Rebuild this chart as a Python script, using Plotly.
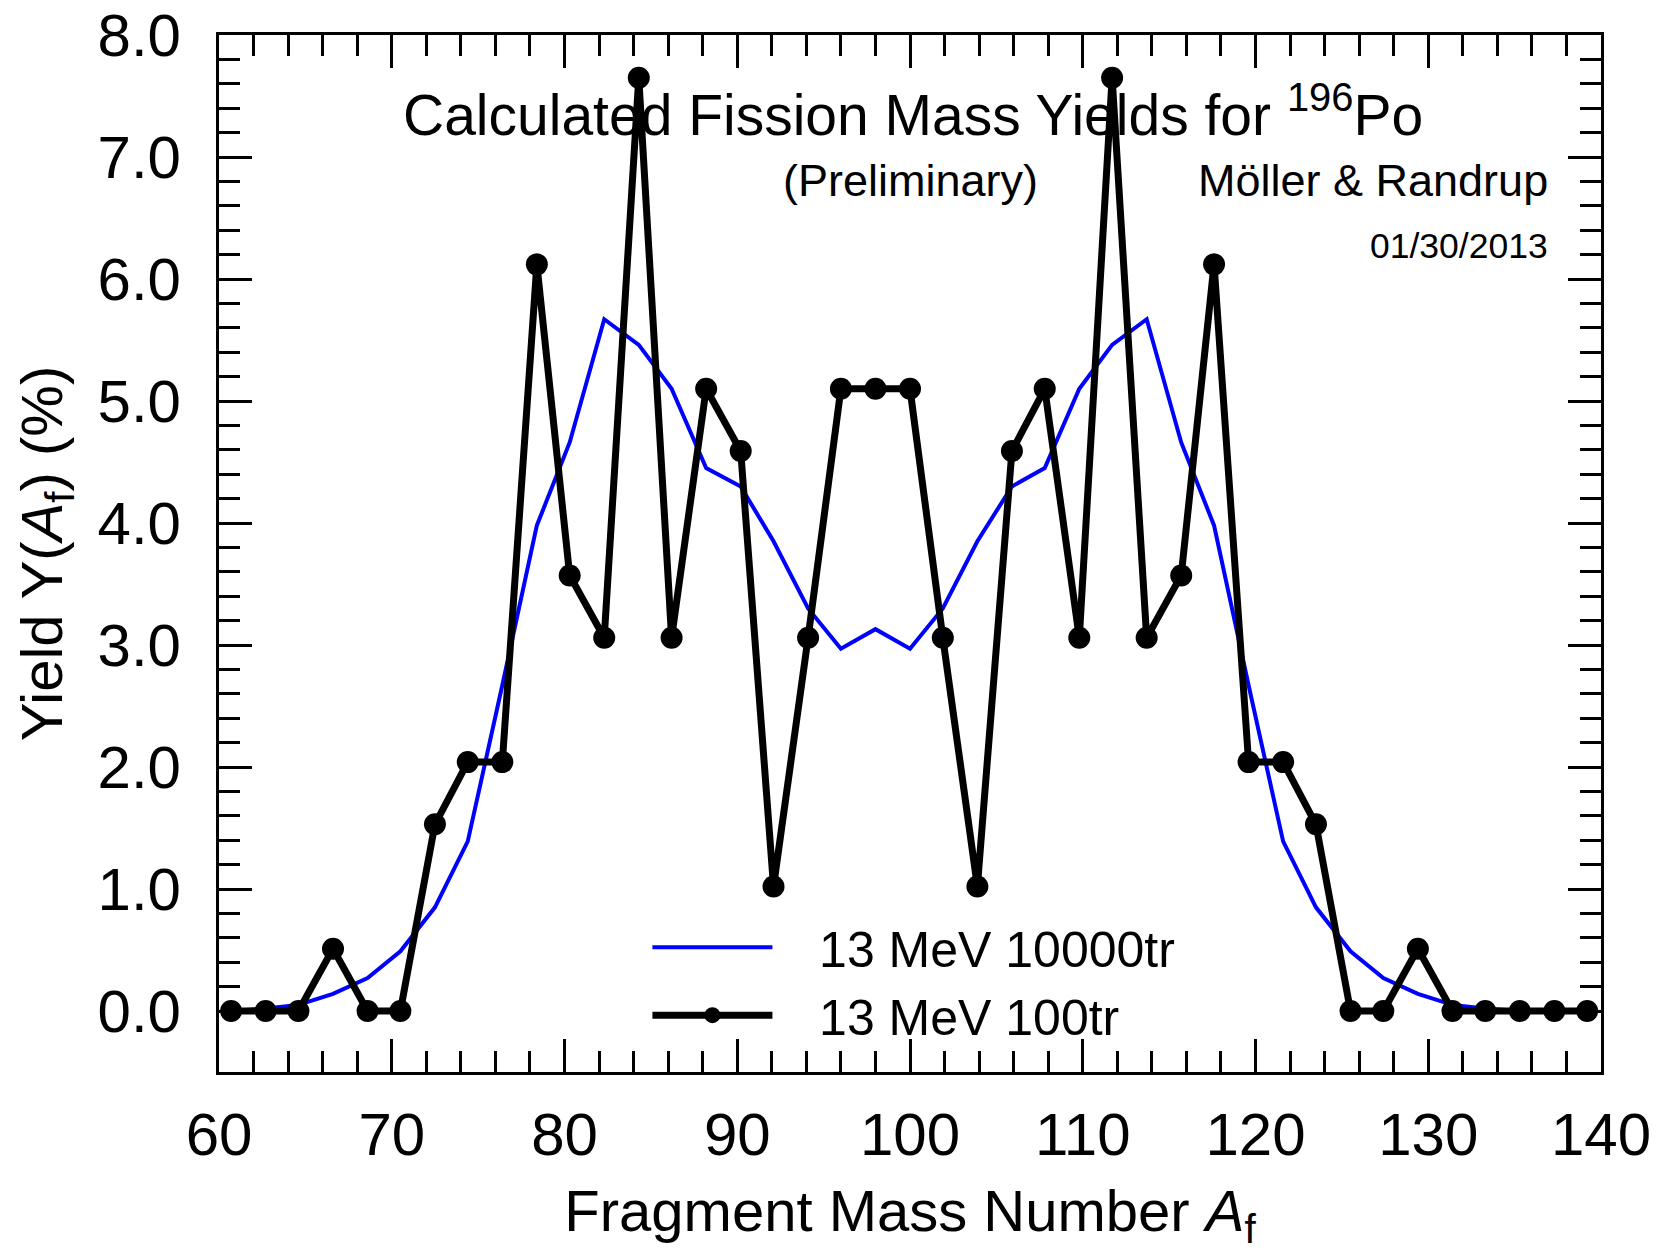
import plotly.graph_objects as go

# Fragment mass numbers
mass_number = [60.7, 62.7, 64.6, 66.6, 68.6, 70.5, 72.5, 74.4, 76.4, 78.4,
               80.3, 82.3, 84.3, 86.2, 88.2, 90.2, 92.1, 94.1, 96.0, 98.0,
               100.0, 101.9, 103.9, 105.9, 107.8, 109.8, 111.7, 113.7, 115.7, 117.6,
               119.6, 121.6, 123.5, 125.5, 127.4, 129.4, 131.4, 133.3, 135.3, 137.3,
               139.2]

# 13 MeV, 10000 trajectories (blue)
yield_10000tr = [0.00, 0.02, 0.05, 0.14, 0.27, 0.49, 0.85, 1.39, 2.67, 3.98,
                 4.66, 5.67, 5.46, 5.10, 4.45, 4.30, 3.85, 3.30, 2.97, 3.13,
                 2.97, 3.30, 3.85, 4.30, 4.45, 5.10, 5.46, 5.67, 4.66, 3.98,
                 2.67, 1.39, 0.85, 0.49, 0.27, 0.14, 0.05, 0.02, 0.00, 0.00,
                 0.00]

# 13 MeV, 100 trajectories (black)
yield_100tr = [0.00, 0.00, 0.00, 0.51, 0.00, 0.00, 1.53, 2.04, 2.04, 6.12,
               3.57, 3.06, 7.65, 3.06, 5.10, 4.59, 1.02, 3.06, 5.10, 5.10,
               5.10, 3.06, 1.02, 4.59, 5.10, 3.06, 7.65, 3.06, 3.57, 6.12,
               2.04, 2.04, 1.53, 0.00, 0.00, 0.51, 0.00, 0.00, 0.00, 0.00,
               0.00]

series_names = ["13 MeV 10000tr", "13 MeV 100tr"]

x_ticks = [60, 70, 80, 90, 100, 110, 120, 130, 140]
y_ticks = [0, 1, 2, 3, 4, 5, 6, 7, 8]
y_minor = [round(i * 0.2, 1) for i in range(1, 40) if i % 5 != 0]

FONT = "Liberation Sans, Arial, Helvetica, sans-serif"
PAD = "\u00a0\u00a0\u00a0"  # gap between legend line sample and its text

fig = go.Figure()
fig.add_trace(go.Scatter(
    x=mass_number, y=yield_10000tr, mode="lines", name=PAD + series_names[0],
    line=dict(color="#0000ff", width=4),
))
fig.add_trace(go.Scatter(
    x=mass_number, y=yield_100tr, mode="lines+markers", name=PAD + series_names[1],
    line=dict(color="black", width=7),
    marker=dict(color="black", size=22, symbol="circle"),
))

axis_common = dict(
    showline=True, linecolor="black", linewidth=3, mirror="allticks",
    ticks="inside", ticklen=33, tickwidth=2.5, tickcolor="black",
    showgrid=False, zeroline=False, automargin=False,
    ticklabeloverflow="allow",
    tickfont=dict(family=FONT, size=60, color="black"),
)

fig.update_layout(
    width=1664, height=1252,
    paper_bgcolor="white", plot_bgcolor="white",
    # the page body adds an 8px offset; margins compensate so the plot box
    # sits at x 219..1601, y 35..1072 in the window
    margin=dict(l=211, r=71, t=27, b=188),
    font=dict(family=FONT, color="black"),
    showlegend=True,
    legend=dict(
        x=0.31, y=0.158, xanchor="left", yanchor="top",
        bgcolor="rgba(0,0,0,0)", borderwidth=0,
        font=dict(family=FONT, size=50, color="black"),
        itemwidth=120, tracegroupgap=0,
    ),
    xaxis=dict(
        range=[60, 140], tickmode="array", tickvals=x_ticks,
        ticklabelstandoff=8,
        minor=dict(dtick=2, tick0=60, ticks="inside", ticklen=21,
                   tickwidth=2.5, tickcolor="black"),
        title=dict(text="Fragment Mass Number <i>A</i><sub>f</sub>",
                   font=dict(family=FONT, size=58, color="black"), standoff=24),
        **axis_common,
    ),
    yaxis=dict(
        range=[-0.5, 8.0], tickmode="array", tickvals=y_ticks,
        tickformat=".1f", ticklabelstandoff=23,
        minor=dict(tickmode="array", tickvals=y_minor, ticks="inside", ticklen=21,
                   tickwidth=2.5, tickcolor="black"),
        title=dict(text="Yield Y(<i>A</i><sub>f</sub>) (%)",
                   font=dict(family=FONT, size=58, color="black"), standoff=17),
        **axis_common,
    ),
    annotations=[
        dict(text="Calculated Fission Mass Yields for <sup>196</sup>Po",
             xref="paper", yref="paper", x=0.502, y=0.927,
             xanchor="center", yanchor="middle", showarrow=False,
             font=dict(family=FONT, size=57, color="black")),
        dict(text="(Preliminary)",
             xref="paper", yref="paper", x=0.5, y=0.86,
             xanchor="center", yanchor="middle", showarrow=False,
             font=dict(family=FONT, size=45, color="black")),
        dict(text="Möller &amp; Randrup",
             xref="paper", yref="paper", x=0.963, y=0.86,
             xanchor="right", yanchor="middle", showarrow=False,
             font=dict(family=FONT, size=45, color="black")),
        dict(text="01/30/2013",
             xref="paper", yref="paper", x=0.963, y=0.797,
             xanchor="right", yanchor="middle", showarrow=False,
             font=dict(family=FONT, size=35.5, color="black")),
    ],
)

fig.write_html("out.html")
